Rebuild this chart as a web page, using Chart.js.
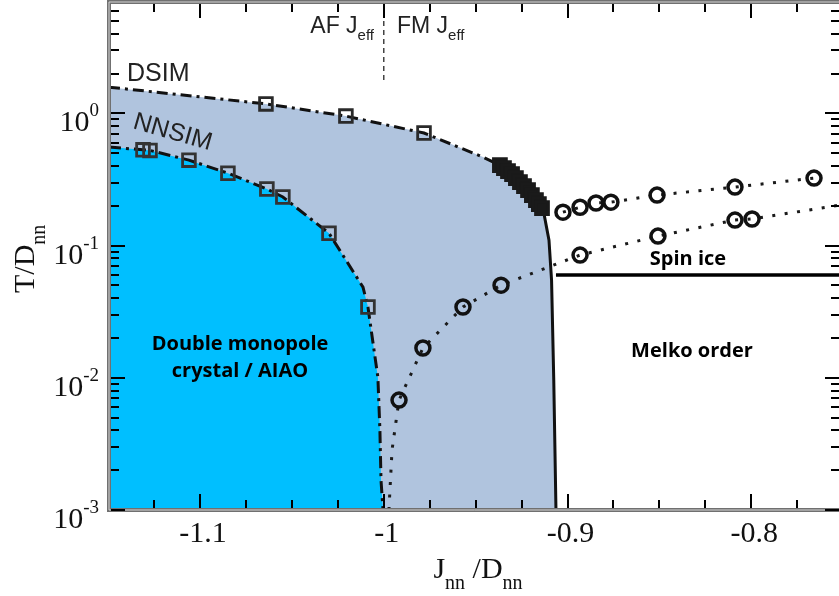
<!DOCTYPE html>
<html><head><meta charset="utf-8">
<script src="https://cdn.jsdelivr.net/npm/chart.js@4.4.1/dist/chart.umd.min.js"></script>
<style>html,body{margin:0;padding:0;background:#fff;overflow:hidden}#wrap{position:relative;width:839px;height:596px}canvas{display:block;position:absolute;left:0;top:0}</style>
</head><body>
<div id="wrap">
<canvas id="c" width="839" height="596"></canvas>
<canvas id="ov" width="839" height="596"></canvas>
</div>
<script>
// ---- axis ranges / ticks ----
const xMin = -1.1495, xMax = -0.7523;
const yMin = 0.001, yMax = 6.96;
const xTicks = [-1.1, -1, -0.9, -0.8];
const xTickLabels = ['-1.1', '-1', '-0.9', '-0.8'];
const yTicks = [1, 0.1, 0.01, 0.001];
const yTickExps = ['0', '-1', '-2', '-3'];

// ---- DSIM boundary (dash-dot) ----
const dsimLineX = [-1.1495, -1.0641, -1.0206, -0.9781, -0.9460, -0.9368, -0.9302, -0.9237, -0.9172, -0.9134];
const dsimLineY = [1.58, 1.18, 0.954, 0.710, 0.467, 0.406, 0.347, 0.282, 0.221, 0.192];
// solid continuation down to the bottom
const solidX = [-0.9134, -0.9101, -0.9087, -0.9075, -0.9063];
const solidY = [0.192, 0.110, 0.0548, 0.0096, 0.001];
// DSIM squares
const dsimSqX = [-1.0641, -1.0206, -0.9781];
const dsimSqY = [1.18, 0.954, 0.710];
// dense cluster of squares
const clusterX = [-0.9368, -0.9346, -0.9324, -0.9302, -0.9281, -0.9259, -0.9237, -0.9215, -0.9194, -0.9172, -0.9156, -0.9139];
const clusterY = [0.406, 0.386, 0.366, 0.347, 0.324, 0.302, 0.282, 0.263, 0.241, 0.221, 0.206, 0.192];

// ---- NNSIM boundary ----
const nnLineX = [-1.1495, -1.1310, -1.1272, -1.1060, -1.0848, -1.0636, -1.0549, -1.0298, -1.0113, -1.0086, -1.0059, -1.0032, -1.0021, -1.0015, -1.0004];
const nnLineY = [0.556, 0.530, 0.525, 0.443, 0.353, 0.268, 0.233, 0.124, 0.0485, 0.0343, 0.0186, 0.0101, 0.00403, 0.00168, 0.001];
const nnSqX = [-1.1310, -1.1272, -1.1060, -1.0848, -1.0636, -1.0549, -1.0298, -1.0086];
const nnSqY = [0.530, 0.525, 0.443, 0.353, 0.268, 0.233, 0.124, 0.0343];

// ---- circles: upper series ----
const upX = [-0.9025, -0.8932, -0.8845, -0.8764, -0.8513, -0.8089, -0.7659];
const upY = [0.179, 0.195, 0.210, 0.213, 0.241, 0.277, 0.324];
// ---- circles: lower series ----
const lowX = [-0.9917, -0.9787, -0.9569, -0.9362, -0.8932, -0.8508, -0.8089, -0.7996];
const lowY = [0.00678, 0.0168, 0.0343, 0.0502, 0.0848, 0.118, 0.156, 0.159];
const lowLineX = [-0.9972, -0.9955, -0.9933, -0.9917, -0.9787, -0.9569, -0.9362, -0.8932, -0.8508, -0.8089, -0.7996, -0.7523];
const lowLineY = [0.001, 0.00284, 0.00471, 0.00678, 0.0168, 0.0343, 0.0502, 0.0848, 0.118, 0.156, 0.159, 0.202];

// ---- spin ice line & AF/FM divider ----
const spinX = [-0.9063, -0.7523];
const spinY = [0.0598, 0.0598];
const divX = [-1, -1];
const divY = [1.79, 6.96];

const pts = (xs, ys) => xs.map((x, i) => ({x, y: ys[i]}));

function drawTicks(chart) {
  const octx = document.getElementById('ov').getContext('2d');
  const a = chart.chartArea;
  const xs = chart.scales.x, ys = chart.scales.y;
  octx.clearRect(0, 0, 839, 596);
  octx.fillStyle = '#000';
  for (let k = -46; k <= -30; k++) {
    const v = k * 0.025;
    if (v < xMin || v > xMax) continue;
    const px = Math.round(xs.getPixelForValue(v));
    const L = (k % 4 === 0) ? 14 : 8;
    octx.fillRect(px - 1, a.bottom - 2 - L, 2, L);
    octx.fillRect(px - 1, a.top + 2, 2, L);
  }
  for (let d = -3; d <= 0; d++) {
    for (let m = 1; m <= 9; m++) {
      const v = m * Math.pow(10, d);
      if (v > yMax) continue;
      const py = Math.round(ys.getPixelForValue(v));
      const L = m === 1 ? 14 : 8;
      octx.fillRect(a.left + 2, py - 1, L, 2);
      octx.fillRect(a.right - L, py - 1, L, 2);
    }
  }
}

const framePlugin = {
  id: 'frame',
  afterDraw(chart) {
    const ctx = chart.ctx, a = chart.chartArea;
    const xs = chart.scales.x, ys = chart.scales.y;
    ctx.save();
    ctx.setLineDash([]);
    // frame (double grey line)
    ctx.lineCap = 'square';
    ctx.strokeStyle = '#707070';
    ctx.lineWidth = 4;
    ctx.beginPath();
    ctx.moveTo(a.right + 3, a.top); ctx.lineTo(a.left, a.top); ctx.lineTo(a.left, a.bottom); ctx.lineTo(a.right + 3, a.bottom);
    ctx.stroke();
    ctx.strokeStyle = '#d4d4d4';
    ctx.lineWidth = 1;
    ctx.beginPath();
    ctx.moveTo(a.right + 3, a.top); ctx.lineTo(a.left, a.top); ctx.lineTo(a.left, a.bottom); ctx.lineTo(a.right + 3, a.bottom);
    ctx.stroke();

    // tick labels
    ctx.fillStyle = '#111';
    ctx.textBaseline = 'alphabetic';
    ctx.font = '30px "Liberation Serif", serif';
    ctx.textAlign = 'center';
    xTicks.forEach((v, i) => {
      ctx.fillText(xTickLabels[i], xs.getPixelForValue(v) + 3, 542);
    });
    yTicks.forEach((v, i) => {
      const py = ys.getPixelForValue(v);
      ctx.textAlign = 'right';
      ctx.font = '19px "Liberation Serif", serif';
      const sw = ctx.measureText(yTickExps[i]).width;
      ctx.fillText(yTickExps[i], 99, py + 3);
      ctx.font = '30px "Liberation Serif", serif';
      ctx.fillText('10', 99 - sw, py + 18);
    });

    // axis titles
    ctx.textAlign = 'left';
    const big = '30px "Liberation Serif", serif', small = '20px "Liberation Serif", serif';
    ctx.font = big; const wJ = ctx.measureText('J').width; const wD = ctx.measureText(' /D').width;
    ctx.font = small; const wn = ctx.measureText('nn').width;
    let sx = 478 - (wJ + wn * 2 + wD) / 2;
    ctx.font = big; ctx.fillText('J', sx, 578); sx += wJ;
    ctx.font = small; ctx.fillText('nn', sx, 589); sx += wn;
    ctx.font = big; ctx.fillText(' /D', sx, 578); sx += wD;
    ctx.font = small; ctx.fillText('nn', sx, 589);
    ctx.save();
    ctx.translate(34, 293);
    ctx.rotate(-Math.PI / 2);
    ctx.font = big; ctx.fillText('T/D', 0, 0);
    const wT = ctx.measureText('T/D').width;
    ctx.font = small; ctx.fillText('nn', wT, 11);
    ctx.restore();

    // AF / FM labels
    ctx.fillStyle = '#222';
    const sb = '23px "Liberation Sans", Arial, sans-serif', ss = '15px "Liberation Sans", Arial, sans-serif';
    ctx.font = sb; const wAF = ctx.measureText('AF J').width, wFM = ctx.measureText('FM J').width;
    ctx.font = ss; const we = ctx.measureText('eff').width;
    const ax = 374 - we - wAF;
    ctx.font = sb; ctx.fillText('AF J', ax, 33);
    ctx.font = ss; ctx.fillText('eff', ax + wAF, 40);
    ctx.font = sb; ctx.fillText('FM J', 397, 33);
    ctx.font = ss; ctx.fillText('eff', 397 + wFM, 40);

    // DSIM / NNSIM
    ctx.font = '25px "Liberation Sans", Arial, sans-serif';
    ctx.fillText('DSIM', 127, 81);
    ctx.save();
    ctx.translate(132, 128);
    ctx.rotate(16 * Math.PI / 180);
    ctx.fillText('NNSIM', 0, 0);
    ctx.restore();

    // region labels
    ctx.fillStyle = '#000';
    ctx.textAlign = 'center';
    ctx.font = 'bold 20px "Open Sans", sans-serif';
    ctx.fillText('Double monopole', 240, 350);
    ctx.fillText('crystal / AIAO', 240, 377);
    ctx.fillText('Melko order', 692, 357);
    ctx.fillText('Spin ice', 688, 265);
    ctx.restore();

    drawTicks(chart);
  }
};

const dotted = {borderColor: '#1a1a1a', borderWidth: 3, borderDash: [3, 9.5], pointRadius: 0, showLine: true, fill: false};
const dashdot = {borderColor: '#111', borderWidth: 3, borderDash: [11, 5, 3, 5], pointRadius: 0, showLine: true, fill: false};

new Chart(document.getElementById('c'), {
  type: 'scatter',
  data: {
    datasets: [
      {data: pts(dsimLineX.concat(solidX.slice(1)), dsimLineY.concat(solidY.slice(1))), showLine: true, pointRadius: 0, borderWidth: 0, borderColor: 'rgba(0,0,0,0)', backgroundColor: '#b0c4de', fill: 'start', order: 100},
      {data: pts(nnLineX, nnLineY), showLine: true, pointRadius: 0, borderWidth: 0, borderColor: 'rgba(0,0,0,0)', backgroundColor: '#00bfff', fill: 'start', order: 99},
      Object.assign({data: pts(dsimLineX, dsimLineY), order: 50}, dashdot),
      Object.assign({data: pts(nnLineX, nnLineY), order: 50}, dashdot, {borderDash: [12, 5, 3, 5]}),
      {data: pts(solidX, solidY), showLine: true, pointRadius: 0, borderColor: '#111', borderWidth: 3, fill: false, order: 50},
      {data: pts(spinX, spinY), showLine: true, pointRadius: 0, borderColor: '#000', borderWidth: 3.5, fill: false, order: 50},
      {data: pts(divX, divY), showLine: true, pointRadius: 0, borderColor: '#444', borderWidth: 1.5, borderDash: [5, 4], fill: false, order: 50},
      Object.assign({data: pts(upX, upY), order: 40}, dotted),
      Object.assign({data: pts(lowLineX, lowLineY), order: 40}, dotted),
      {data: pts(dsimSqX, dsimSqY), pointStyle: 'rect', pointRadius: 9, borderWidth: 2.8, borderColor: '#2a2a2a', backgroundColor: 'rgba(0,0,0,0)', order: 10},
      {data: pts(clusterX, clusterY), pointStyle: 'rect', pointRadius: 9, borderWidth: 3, borderColor: '#1a1a1a', backgroundColor: '#1a1a1a', order: 10},
      {data: pts(nnSqX, nnSqY), pointStyle: 'rect', pointRadius: 9, borderWidth: 2.8, borderColor: '#333', backgroundColor: 'rgba(0,0,0,0)', order: 10},
      {data: pts(upX, upY), pointStyle: 'circle', pointRadius: 7, borderWidth: 3.5, borderColor: '#111', backgroundColor: 'rgba(0,0,0,0)', order: 10},
      {data: pts(lowX, lowY), pointStyle: 'circle', pointRadius: 7, borderWidth: 3.5, borderColor: '#111', backgroundColor: 'rgba(0,0,0,0)', order: 10}
    ]
  },
  options: {
    responsive: false,
    animation: false,
    events: [],
    layout: {autoPadding: false, padding: {left: 109, top: 2, right: 0, bottom: 86}},
    plugins: {legend: {display: false}, tooltip: {enabled: false}},
    scales: {
      x: {type: 'linear', min: xMin, max: xMax, display: false},
      y: {type: 'logarithmic', min: yMin, max: yMax, display: false}
    }
  },
  plugins: [framePlugin]
});
</script>
</body></html>
